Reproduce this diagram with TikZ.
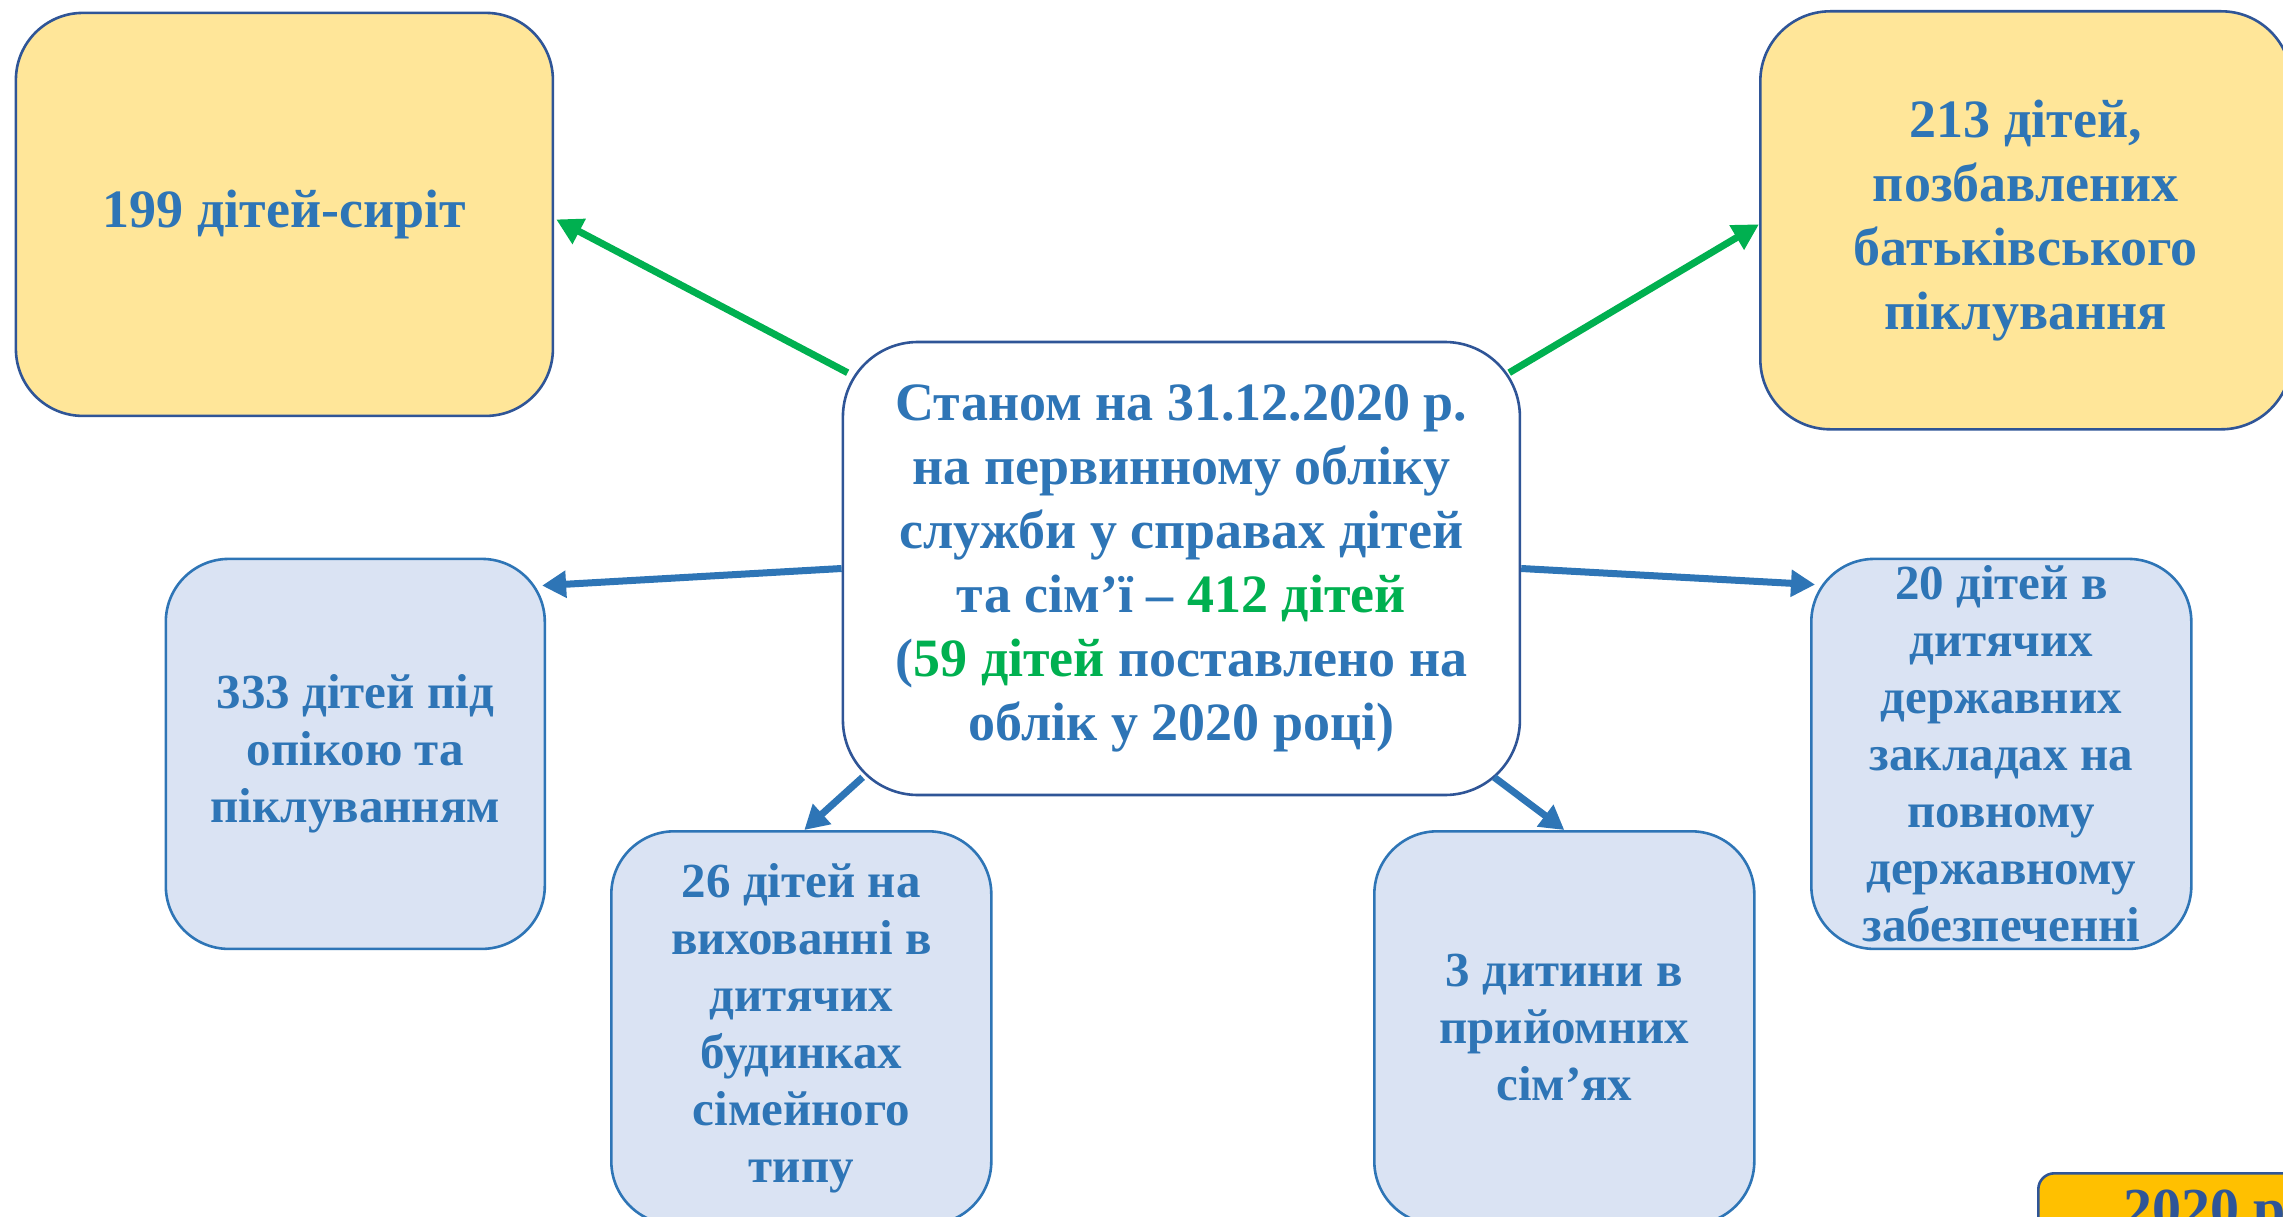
\documentclass[tikz,border=0pt]{standalone}
\usepackage{fontspec}
\setmainfont{Liberation Serif}
\usetikzlibrary{arrows.meta}
\definecolor{txtblue}{HTML}{2E75B6}
\definecolor{darkblue}{HTML}{2F5597}
\definecolor{ylw}{HTML}{FFE699}
\definecolor{lblue}{HTML}{DAE3F3}
\definecolor{grn}{HTML}{00B050}
\definecolor{gold}{HTML}{FFC000}
\begin{document}
\begin{tikzpicture}[x=1pt,y=-1pt,
  basebox/.style={draw, line width=2.6pt, anchor=north west, align=center,
    text=txtblue, inner sep=0pt},
  yelbox/.style={basebox, fill=ylw, draw=darkblue, font=\fontsize{54}{64}\selectfont\bfseries},
  midbox/.style={basebox, fill=white, draw=darkblue, rounded corners=75pt,
    minimum width=677pt, minimum height=453pt, font=\fontsize{54}{64}\selectfont\bfseries},
  bluebox/.style={basebox, fill=lblue, draw=txtblue, rounded corners=63pt,
    font=\fontsize{49}{57}\selectfont\bfseries},
  garrow/.style={draw=grn, line width=7pt, -{Triangle[length=26pt,width=27pt]}},
  barrow/.style={draw=txtblue, line width=7pt, -{Triangle[length=24pt,width=26pt]}}
]
\clip (0,0) rectangle (2283,1217);
\fill[white] (0,0) rectangle (2283,1217);

\node[yelbox, rounded corners=67pt, minimum width=537pt, minimum height=403pt]
  (b1) at (14.6,11.6) {199 дітей-сиріт};
\node[yelbox, rounded corners=70pt, minimum width=531pt, minimum height=418pt]
  (b2) at (1759,10) {213 дітей,\\позбавлених\\батьківського\\піклування};
\node[midbox] (c) at (841.6,340.7)
  {Станом на 31.12.2020 р.\\на первинному обліку\\служби у справах дітей\\та сім’ї – {\color{grn}412 дітей}\\({\color{grn}59 дітей} поставлено на\\облік у 2020 році)};
\node[bluebox, minimum width=379pt, minimum height=390pt] (l) at (164.5,557.6)
  {333 дітей під\\опікою та\\піклуванням};
\node[bluebox, minimum width=380pt, minimum height=390pt] (r) at (1810,557.6)
  {20 дітей в\\дитячих\\державних\\закладах на\\повному\\державному\\забезпеченні};
\node[bluebox, minimum width=380pt, minimum height=393pt] (bl) at (610,830)
  {26 дітей на\\вихованні в\\дитячих\\будинках\\сімейного\\типу};
\node[bluebox, minimum width=380pt, minimum height=393pt] (br) at (1373,830)
  {3 дитини в\\прийомних\\сім’ях};
\node[draw=darkblue, fill=gold, line width=2.6pt, rounded corners=16pt, anchor=north west,
  minimum width=270pt, minimum height=90pt, inner sep=0pt] (yr) at (2037,1172) {};
\node[anchor=base west, inner sep=0pt, text=darkblue,
  font=\fontsize{58}{64}\selectfont\bfseries] (yrt) at (2123,1228) {2020 р};

\draw[garrow] ([xshift=6pt,yshift=-32pt]c.north west) -- ([xshift=2pt,yshift=-5pt]b1.east);
\draw[garrow] ([xshift=-12pt,yshift=-32pt]c.north east) -- ([yshift=-4pt]b2.west);
\draw[barrow] (c.west) -- ([xshift=-4pt,yshift=-28pt]l.north east);
\draw[barrow] (c.east) -- ([xshift=5pt,yshift=-27pt]r.north west);
\draw[barrow] ([xshift=21pt,yshift=19pt]c.south west) -- ([xshift=3pt]bl.north);
\draw[barrow] ([xshift=-27pt,yshift=19pt]c.south east) -- (br.north);
\end{tikzpicture}
\end{document}
